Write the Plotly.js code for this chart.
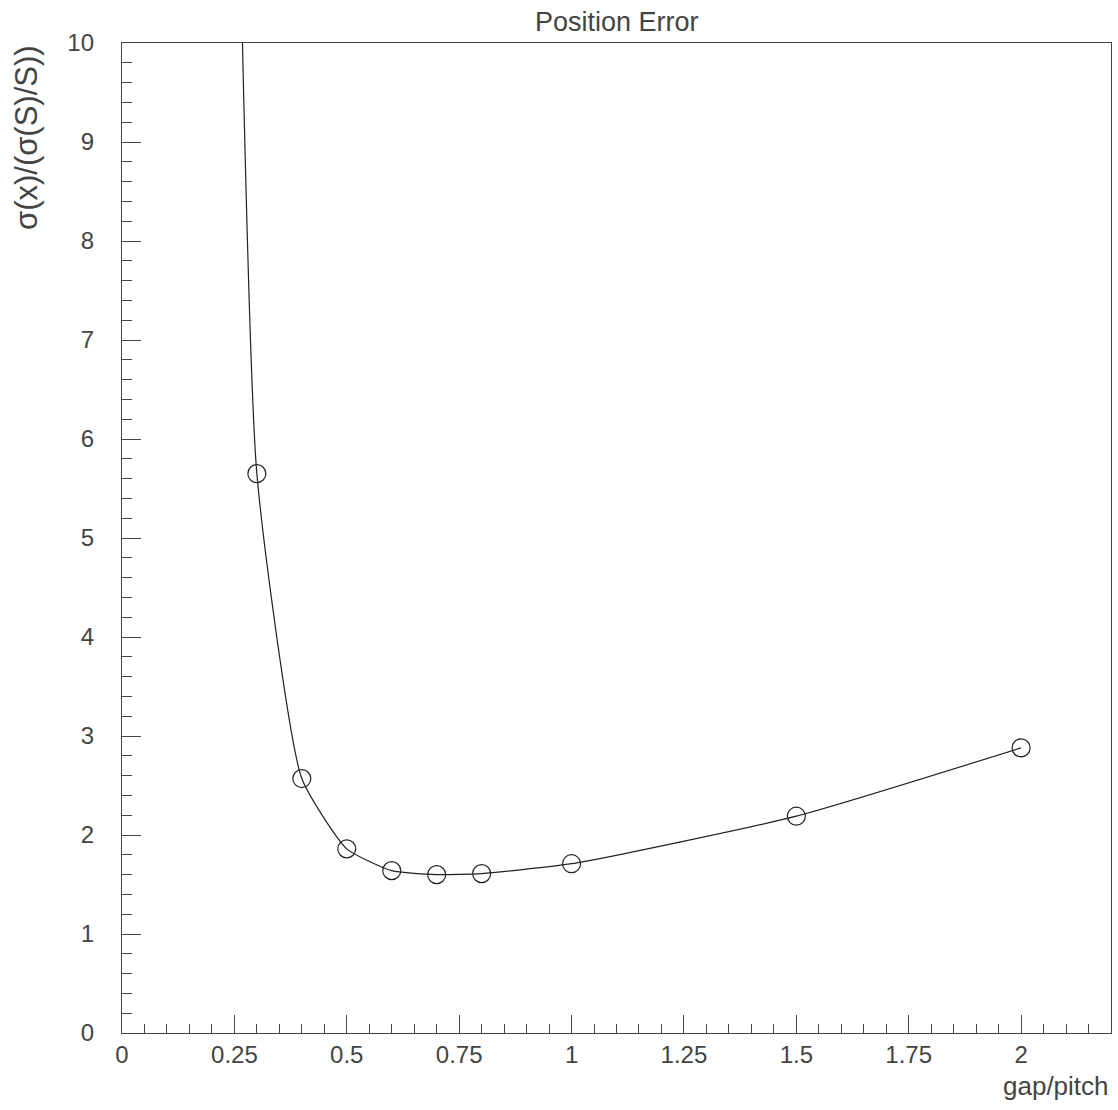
<!DOCTYPE html>
<html>
<head>
<meta charset="utf-8">
<script src="https://cdn.plot.ly/plotly-3.0.1.min.js"></script>
<style>html,body{margin:0;padding:0;background:#fff;}#chart{width:1118px;height:1110px;}</style>
</head>
<body>
<div id="chart"></div>
<script>
// gap/pitch values (first point lies above the plotted range)
const gapPitch = [0.25, 0.3, 0.4, 0.5, 0.6, 0.7, 0.8, 1.0, 1.5, 2.0];
// sigma(x)/(sigma(S)/S)
const posError = [14.0, 5.65, 2.57, 1.86, 1.64, 1.60, 1.61, 1.71, 2.19, 2.88];

const xTickVals = [0, 0.25, 0.5, 0.75, 1, 1.25, 1.5, 1.75, 2];
const xTickText = ["0", "0.25", "0.5", "0.75", "1", "1.25", "1.5", "1.75", "2"];
const yTickVals = [0, 1, 2, 3, 4, 5, 6, 7, 8, 9, 10];
const yTickText = ["0", "1", "2", "3", "4", "5", "6", "7", "8", "9", "10"];

const axisColor = '#444';
const fontFam = 'Liberation Sans, Arial, sans-serif';

const trace = {
  x: gapPitch,
  y: posError,
  mode: 'lines+markers',
  line: {color: '#222', width: 1.2, shape: 'spline', smoothing: 0.5},
  marker: {symbol: 'circle-open', size: 18, color: '#222', line: {width: 1.2, color: '#222'}},
  cliponaxis: true,
  showlegend: false,
  hoverinfo: 'x+y'
};

const layout = {
  width: 1118, height: 1110,
  margin: {l: 122, r: 7, t: 43, b: 77},
  paper_bgcolor: '#fff', plot_bgcolor: '#fff',
  font: {family: fontFam, color: axisColor},
  xaxis: {
    range: [0, 2.2], showgrid: false, zeroline: false,
    showline: true, linecolor: axisColor, linewidth: 1.2, mirror: true,
    ticks: 'inside', ticklen: 18, tickcolor: axisColor, tickwidth: 1,
    tickmode: 'array', tickvals: xTickVals, ticktext: xTickText,
    tickfont: {size: 24, family: fontFam, color: axisColor},
    ticklabelstandoff: 0,
    minor: {dtick: 0.05, tick0: 0, ticks: 'inside', ticklen: 9, tickcolor: axisColor, tickwidth: 1, showgrid: false}
  },
  yaxis: {
    range: [0, 10], showgrid: false, zeroline: false,
    showline: true, linecolor: axisColor, linewidth: 1.2, mirror: true,
    ticks: 'inside', ticklen: 19, tickcolor: axisColor, tickwidth: 1,
    tickmode: 'array', tickvals: yTickVals, ticktext: yTickText,
    tickfont: {size: 24, family: fontFam, color: axisColor},
    ticklabelstandoff: 22,
    minor: {dtick: 0.2, tick0: 0, ticks: 'inside', ticklen: 10, tickcolor: axisColor, tickwidth: 1, showgrid: false}
  },
  annotations: [
    {text: 'Position Error', xref: 'paper', yref: 'paper', x: 0.5, y: 1, xanchor: 'center', yanchor: 'bottom', yshift: 4,
     showarrow: false, font: {size: 27, family: fontFam, color: axisColor}},
    {text: 'gap/pitch', xref: 'paper', yref: 'paper', x: 1, y: 0, xanchor: 'right', yanchor: 'top', yshift: -36,
     showarrow: false, font: {size: 26, family: fontFam, color: axisColor}},
    {text: 'σ(x)/(σ(S)/S))', xref: 'paper', yref: 'paper', x: 0, y: 1, xanchor: 'right', yanchor: 'top', xshift: -76,
     textangle: -90, showarrow: false, font: {size: 31, family: fontFam, color: axisColor}}
  ]
};

Plotly.newPlot('chart', [trace], layout, {displayModeBar: false, staticPlot: true});
</script>
</body>
</html>
